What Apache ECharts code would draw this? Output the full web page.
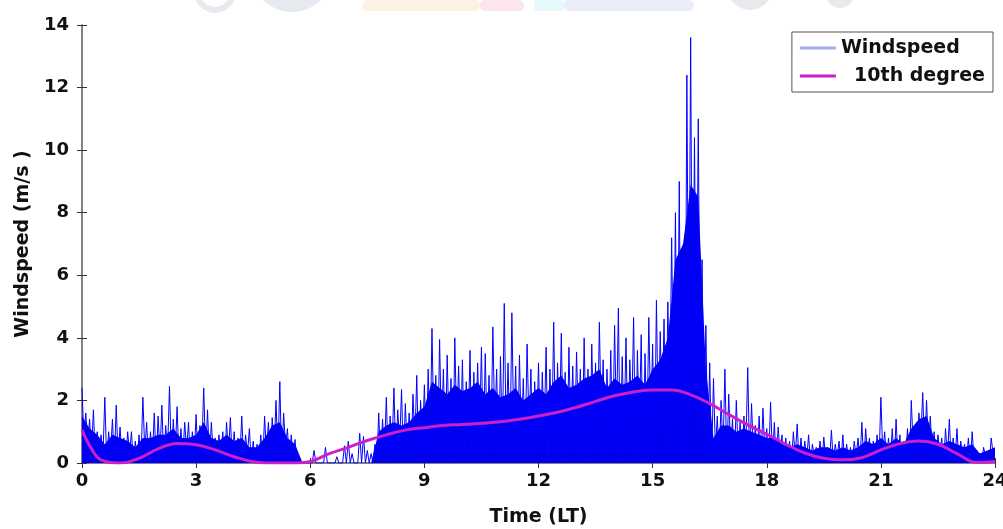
<!DOCTYPE html>
<html>
<head>
<meta charset="utf-8">
<title>Windspeed</title>
<script src="https://cdn.jsdelivr.net/npm/echarts@6/dist/echarts.min.js"></script>
<style>
  html, body { margin: 0; padding: 0; background: #fff; }
  #chart { width: 1003px; height: 529px; }
</style>
</head>
<body>
<div id="chart"></div>
<script>
// windspeed: one spike top every 0.1 h (peaks) and the dip half a step later (troughs)
var peaks = [
  2.4, 1.6, 1.4, 1.7, 1.0, 0.9, 2.1, 1.0, 1.4, 1.85,
  1.15, 0.8, 1.0, 1.0, 0.7, 0.9, 2.1, 1.3, 1.0, 1.6,
  1.5, 1.85, 1.2, 2.45, 1.4, 1.8, 1.1, 1.3, 1.3, 1.0,
  1.55, 1.2, 2.4, 1.7, 1.3, 0.8, 0.9, 1.0, 1.3, 1.45,
  1.0, 0.8, 1.5, 0.9, 1.1, 0.7, 0.6, 0.9, 1.5, 1.3,
  1.45, 2.0, 2.6, 1.6, 1.1, 0.9, 0.75, 0, 0, 0,
  0, 0.4, 0, 0, 0.5, 0, 0, 0.2, 0, 0.55,
  0.7, 0.3, 0, 0.95, 0.85, 0.4, 0.3, 0.6, 1.6, 1.4,
  2.1, 1.5, 2.4, 1.7, 2.35, 1.9, 1.6, 2.2, 2.8, 2.0,
  2.5, 3.0, 4.3, 2.8, 3.95, 3.0, 3.45, 2.7, 4.0, 3.1,
  3.3, 2.6, 3.6, 2.9, 3.2, 3.7, 3.5, 2.8, 4.35, 3.0,
  3.4, 5.1, 3.2, 4.8, 3.1, 3.45, 2.7, 3.8, 3.0, 2.6,
  3.2, 2.9, 3.7, 3.0, 4.5, 3.2, 4.15, 2.9, 3.7, 3.1,
  3.55, 3.0, 4.0, 3.0, 3.8, 3.2, 4.5, 3.3, 3.0, 3.6,
  4.4, 4.95, 3.4, 4.0, 3.3, 4.65, 3.6, 4.1, 3.5, 4.65,
  3.8, 5.2, 4.2, 4.6, 5.15, 7.2, 8.0, 9.0, 6.5, 12.4,
  13.6, 10.4, 11.0, 6.5, 4.4, 3.2, 2.7, 1.5, 2.0, 3.0,
  2.2, 1.4, 2.0, 1.3, 1.5, 3.05, 1.9, 1.2, 1.5, 1.75,
  1.1, 1.95, 1.3, 1.15, 0.9, 0.8, 0.7, 1.0, 1.25, 0.8,
  0.7, 0.9, 0.6, 0.5, 0.7, 0.83, 0.5, 1.05, 0.6, 0.7,
  0.9, 0.6, 0.5, 0.7, 0.8, 1.3, 1.1, 0.8, 0.7, 0.9,
  2.1, 1.0, 0.8, 1.1, 1.4, 0.9, 0.7, 1.1, 2.0, 1.2,
  1.6, 2.25, 2.0, 1.5, 1.0, 0.9, 0.8, 1.1, 1.4, 0.8,
  1.1, 0.7, 0.6, 0.8, 1.0, 0.4, 0.3, 0.5, 0.3, 0.8
];
var troughs = [
  0.8, 0.5, 0.3, 0.1, 0, 0.2, 0, 0.3, 0, 0.1,
  0.2, 0, 0.3, 0, 0.1, 0, 0.4, 0, 0.2, 0,
  0.3, 0, 0.4, 0.1, 0.3, 0, 0.2, 0.4, 0, 0.3,
  0, 0.5, 0.2, 0, 0.3, 0, 0.2, 0, 0.3, 0.1,
  0, 0.2, 0, 0.3, 0, 0.1, 0, 0, 0.3, 0,
  0.4, 0.2, 0, 0.5, 0, 0.2, 0, 0, 0, 0,
  0, 0, 0, 0, 0, 0, 0, 0, 0, 0,
  0, 0, 0, 0, 0, 0, 0, 0, 0, 0.3,
  0, 0.5, 0.1, 0.6, 0, 0.4, 0.2, 0.7, 0, 0.5,
  0.3, 0.5, 0.9, 0.2, 1.0, 0.4, 0.8, 0, 1.1, 0.6,
  0.3, 0.9, 0, 0.7, 1.0, 0.2, 0.8, 0.5, 1.2, 0,
  0.6, 0.9, 0.3, 1.0, 0, 0.7, 0.4, 1.1, 0.2, 0.8,
  0.5, 1.0, 0, 0.9, 0.4, 1.1, 0.6, 0, 0.9, 0.5,
  1.2, 0.3, 0.8, 0, 1.0, 0.6, 1.3, 0.2, 0.9, 0.5,
  1.2, 0, 1.0, 0.6, 1.4, 0.3, 1.1, 0, 0.8, 1.3,
  0.2, 1.0, 1.5, 0.6, 1.8, 2.2, 1.4, 0.5, 0.2, 2.5,
  1.8, 3.0, 2.2, 1.0, 0.3, 0, 0.4, 0, 0.3, 0,
  0.5, 0, 0.2, 0, 0.4, 0, 0.3, 0.1, 0, 0.3,
  0, 0.2, 0, 0.3, 0, 0.1, 0, 0.2, 0, 0,
  0.1, 0, 0.2, 0, 0, 0.1, 0, 0, 0.2, 0,
  0, 0.1, 0, 0.2, 0, 0, 0.3, 0, 0.1, 0,
  0.3, 0, 0.2, 0, 0.1, 0, 0.2, 0, 0.5, 0.3,
  0.8, 0.4, 0.6, 0.2, 0, 0.3, 0, 0.2, 0, 0.1,
  0, 0.2, 0, 0, 0.1, 0, 0, 0.2, 0, 0.3
];
// top of the solid dark band (where the samples are too dense to separate), every 0.2 h
var coreTop = [
  1.5, 1.1, 0.9, 0.6, 0.9, 0.8, 0.7, 0.5, 0.8, 0.8,
  0.9, 0.9, 1.1, 0.8, 0.8, 0.9, 1.3, 0.8, 0.7, 0.9,
  0.7, 0.8, 0.5, 0.5, 0.8, 1.2, 1.3, 0.8, 0.6, 0,
  0, 0, 0, 0, 0, 0, 0, 0, 0, 1.0,
  1.2, 1.3, 1.2, 1.3, 1.6, 1.8, 2.6, 2.4, 2.2, 2.5,
  2.3, 2.4, 2.6, 2.2, 2.4, 2.1, 2.2, 2.4, 2.0, 2.2,
  2.4, 2.2, 2.6, 2.8, 2.4, 2.5, 2.7, 2.8, 3.0, 2.4,
  2.7, 2.5, 2.6, 2.8, 2.5, 3.0, 3.3, 4.0, 6.5, 7.0,
  8.9, 8.5, 3.0, 0.8, 1.2, 1.2, 1.0, 1.1, 1.0, 0.9,
  0.8, 0.8, 0.6, 0.5, 0.6, 0.5, 0.4, 0.5, 0.5, 0.4,
  0.5, 0.4, 0.5, 0.7, 0.6, 0.8, 0.6, 0.8, 0.6, 1.1,
  1.4, 1.5, 0.8, 0.6, 0.7, 0.6, 0.5, 0.6, 0.3, 0.4,
  0.5
];
// 10th degree fit, read at these hours
var fitHours = [0, 0.25, 0.5, 1, 1.5, 2, 2.5, 3, 3.5, 4, 4.5, 5, 5.5, 6, 6.5, 7, 7.5, 8, 8.5, 9, 9.5, 10,
  10.5, 11, 11.5, 12, 12.5, 13, 13.5, 14, 14.5, 15, 15.5, 16, 16.5, 17, 17.5, 18, 18.5, 19, 19.5, 20,
  20.5, 21, 21.5, 22, 22.5, 23, 23.5, 24];
var fitValues = [1.05, 0.45, 0.1, 0.0, 0.15, 0.45, 0.62, 0.58, 0.42, 0.2, 0.04, 0.0, 0.0, 0.05, 0.3, 0.5, 0.72, 0.9,
  1.05, 1.13, 1.2, 1.23, 1.27, 1.32, 1.4, 1.5, 1.62, 1.78, 1.97, 2.15, 2.27, 2.33, 2.33, 2.18, 1.9, 1.55,
  1.22, 0.92, 0.6, 0.32, 0.15, 0.1, 0.17, 0.42, 0.62, 0.7, 0.6, 0.3, 0.02, 0.05];

var windData = [];
for (var i = 0; i < peaks.length; i++) {
  windData.push([i / 10, peaks[i]]);
  windData.push([i / 10 + 0.05, troughs[i]]);
}
var coreData = coreTop.map(function (v, k) { return [k * 0.2, v]; });
var fitData = fitHours.map(function (h, k) { return [h, fitValues[k]]; });

var font = 'DejaVu Sans';
var frame = { show: true, lineStyle: { color: '#7a7a7a', width: 1.5 } };
var ticks = { show: true, inside: true, length: 5, lineStyle: { color: '#333' } };

var chart = echarts.init(document.getElementById('chart'));

var option = {
  backgroundColor: '#fff',
  animation: false,
  graphic: [
    // faint watermark along the top edge
    { type: 'circle', shape: { cx: 292, cy: -30, r: 42 }, style: { fill: '#e6e9ed' }, z: -1 },
    { type: 'circle', shape: { cx: 215, cy: -8, r: 18 }, style: { fill: 'none', stroke: '#e6e9ed', lineWidth: 6 }, z: -1 },
    { type: 'rect', shape: { x: 362, y: 0, width: 118, height: 11, r: 5 }, style: { fill: '#fdf1e4' }, z: -1 },
    { type: 'rect', shape: { x: 480, y: 0, width: 44, height: 11, r: 5 }, style: { fill: '#fce6eb' }, z: -1 },
    { type: 'rect', shape: { x: 534, y: 0, width: 30, height: 11, r: 4 }, style: { fill: '#e6f9fb' }, z: -1 },
    { type: 'rect', shape: { x: 564, y: 0, width: 130, height: 11, r: 5 }, style: { fill: '#ebedf9' }, z: -1 },
    { type: 'circle', shape: { cx: 750, cy: -12, r: 22 }, style: { fill: '#e7e9ec' }, z: -1 },
    { type: 'circle', shape: { cx: 840, cy: -6, r: 14 }, style: { fill: '#e7e9ec' }, z: -1 }
  ],
  grid: { left: 82, right: 8, top: 25, bottom: 66, containLabel: false, outerBoundsMode: 'none' },
  legend: {
    orient: 'vertical',
    right: 10,
    top: 32,
    padding: [5, 8, 5, 8],
    itemGap: 6,
    itemWidth: 36,
    itemHeight: 3,
    borderColor: '#555',
    borderWidth: 1,
    backgroundColor: '#fff',
    textStyle: { fontFamily: font, fontWeight: 'bold', fontSize: 19, color: '#111', lineHeight: 22 },
    formatter: function (name) { return name === '10th degree' ? '  10th degree' : name; },
    data: [
      { name: 'Windspeed', icon: 'rect', itemStyle: { color: '#a3adf3' } },
      { name: '10th degree', icon: 'rect', itemStyle: { color: '#cc1fcc' } }
    ]
  },
  xAxis: [
    {
      type: 'value', min: 0, max: 24, interval: 3,
      name: 'Time (LT)', nameLocation: 'middle', nameGap: 45,
      nameTextStyle: { fontFamily: font, fontWeight: 'bold', fontSize: 19, color: '#111' },
      axisLine: frame, axisTick: ticks,
      axisLabel: { fontFamily: font, fontWeight: 'bold', fontSize: 18, color: '#111', margin: 9 },
      splitLine: { show: false }
    },
    {
      type: 'value', min: 0, max: 24, interval: 3, position: 'top',
      axisLine: frame, axisTick: ticks,
      axisLabel: { show: false }, splitLine: { show: false }
    }
  ],
  yAxis: [
    {
      type: 'value', min: 0, max: 14, interval: 2,
      name: 'Windspeed (m/s )', nameLocation: 'middle', nameGap: 43, nameRotate: 90,
      nameTextStyle: { fontFamily: font, fontWeight: 'bold', fontSize: 19, color: '#111' },
      axisLine: frame, axisTick: ticks,
      axisLabel: { fontFamily: font, fontWeight: 'bold', fontSize: 18, color: '#111', margin: 13 },
      splitLine: { show: false }
    },
    {
      type: 'value', min: 0, max: 14, interval: 2, position: 'right',
      axisLine: frame, axisTick: ticks,
      axisLabel: { show: false }, splitLine: { show: false }
    }
  ],
  series: [
    {
      name: 'core',
      type: 'line',
      data: coreData,
      symbol: 'none',
      lineStyle: { width: 0 },
      areaStyle: { color: '#0000ee', opacity: 1 },
      silent: true
    },
    {
      name: 'Windspeed',
      type: 'line',
      data: windData,
      symbol: 'none',
      lineStyle: { color: '#0000ff', width: 1 },
      itemStyle: { color: '#0000ff' }
    },
    {
      name: '10th degree',
      type: 'line',
      data: fitData,
      smooth: 0.4,
      symbol: 'none',
      lineStyle: { color: '#cc1fcc', width: 3 },
      itemStyle: { color: '#cc1fcc' }
    }
  ]
};

chart.setOption(option);
</script>
</body>
</html>
